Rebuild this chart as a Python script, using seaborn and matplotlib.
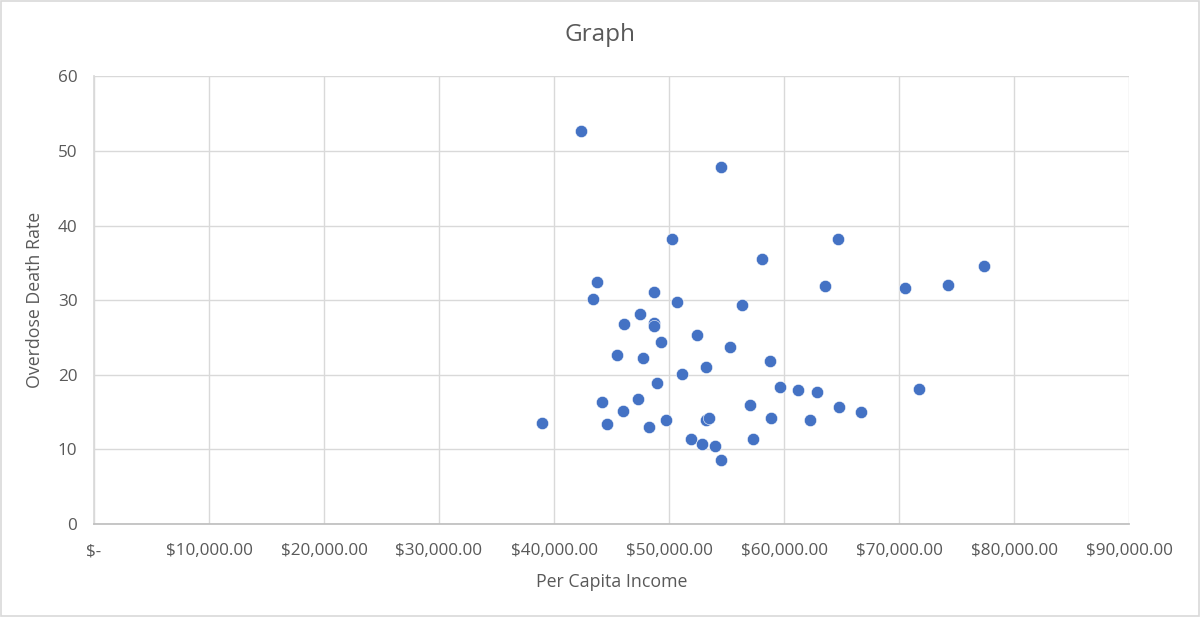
import matplotlib
matplotlib.use("Agg")
import matplotlib.pyplot as plt
import seaborn as sns
import pandas as pd
from matplotlib.ticker import FuncFormatter, MultipleLocator

income = [42322, 54524, 50235, 43770, 43365, 48698, 50670, 47480, 46089, 48700,
          48700, 52465, 49280, 55307, 45453, 47770, 53248, 51161, 48930, 44176,
          47335, 45972, 38930, 44640, 48234, 49770, 53190, 53480, 51886, 52843,
          54002, 54524, 64698, 58089, 63539, 70498, 56378, 58785, 59683, 61190,
          62844, 71742, 57018, 64814, 66670, 58845, 62237, 57280, 74264, 77366]
death_rate = [52.7, 47.9, 38.2, 32.4, 30.1, 31.1, 29.8, 28.2, 26.8, 26.9,
              26.5, 25.4, 24.4, 23.7, 22.7, 22.2, 21.0, 20.1, 18.9, 16.3,
              16.7, 15.1, 13.5, 13.4, 13.0, 14.0, 13.9, 14.2, 11.4, 10.7,
              10.5, 8.6, 38.2, 35.5, 31.9, 31.6, 29.4, 21.85, 18.3, 18.0,
              17.7, 18.1, 15.9, 15.7, 15.0, 14.2, 14.0, 11.35, 32.0, 34.6]

df = pd.DataFrame({"Per Capita Income": income, "Overdose Death Rate": death_rate})

sns.set_theme(style="white")
plt.rcParams["font.family"] = ["Open Sans", "DejaVu Sans"]

grey_text = "#595959"
grid_c = "#d9d9d9"

fig = plt.figure(figsize=(12, 6.17), dpi=100)
ax = fig.add_axes([94 / 1200, 1 - 524 / 617, (1129 - 94) / 1200, (524 - 76.4) / 617])

sns.scatterplot(data=df, x="Per Capita Income", y="Overdose Death Rate", ax=ax,
                color="#4472C4", s=78, edgecolor="white", linewidth=0.4, zorder=3)

ax.set_xlim(0, 90000)
ax.set_ylim(0, 60)
ax.xaxis.set_major_locator(MultipleLocator(10000))
ax.yaxis.set_major_locator(MultipleLocator(10))
ax.xaxis.set_major_formatter(FuncFormatter(lambda v, p: "$-" if v == 0 else f"${v:,.2f}"))
ax.grid(True, color=grid_c, linewidth=1.0)
ax.set_axisbelow(True)
for side in ["top", "right"]:
    ax.spines[side].set_visible(False)
ax.spines["left"].set_color(grid_c)
ax.spines["bottom"].set_color("#bfbfbf")
ax.tick_params(axis="both", length=0, colors=grey_text, labelsize=12.3)
ax.tick_params(axis="x", pad=14)
ax.tick_params(axis="y", pad=12)

ax.set_xlabel("Per Capita Income", fontsize=12.8, color=grey_text, labelpad=10)
ax.set_ylabel("Overdose Death Rate", fontsize=12.8, color=grey_text, labelpad=10)
fig.text(0.5, 1 - 35 / 617, "Graph", ha="center", va="center", fontsize=17.5, color=grey_text)

# outer border
fig.patches.append(plt.Rectangle((0.001, 0.001), 0.998, 0.997, transform=fig.transFigure,
                                 fill=False, edgecolor="#d9d9d9", linewidth=1.2))

fig.savefig("out.png", dpi=100, facecolor="white")
